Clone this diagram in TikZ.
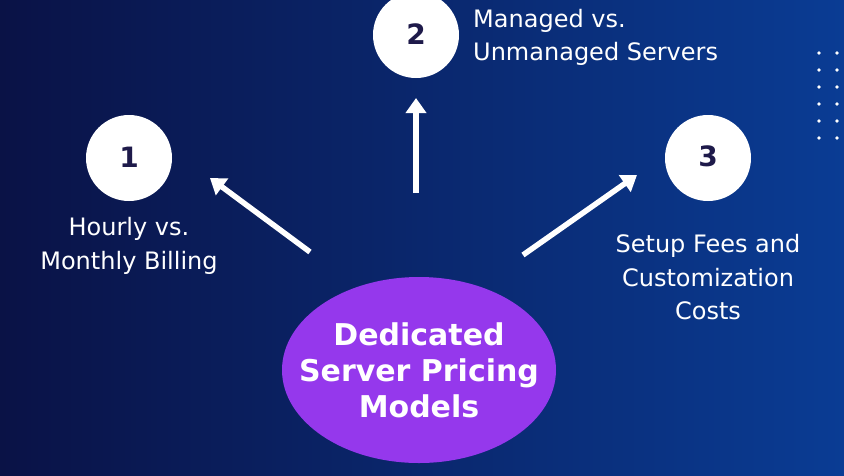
\documentclass[tikz,border=0pt]{standalone}
\usepackage{fontspec}
\setmainfont{DejaVu Sans}
\usetikzlibrary{arrows.meta,shapes.geometric}
\definecolor{bgleft}{HTML}{0A1246}
\definecolor{bgright}{HTML}{0A3C94}
\definecolor{violet}{HTML}{9538EC}
\definecolor{digit}{HTML}{1E1A4A}
\tikzset{
  numcircle/.style={circle,fill=white,minimum size=86pt,inner sep=0pt},
  digitlbl/.style={text=digit,font=\bfseries\fontsize{28}{28}\selectfont,inner sep=0pt,anchor=base},
  lbl/.style={text=white,font=\fontsize{24}{24}\selectfont,inner sep=0pt,anchor=base},
  mainlbl/.style={text=white,font=\bfseries\fontsize{30}{30}\selectfont,inner sep=0pt,anchor=base},
  bigarrow/.style={white,line width=5.5pt,-{Triangle[width=20pt,length=15pt]}},
  dot/.style={circle,fill=white,minimum size=3.8pt,inner sep=0pt}
}
\begin{document}
\begin{tikzpicture}[x=1pt,y=-1pt]
\useasboundingbox (0,0) rectangle (844,475);
\shade[left color=bgleft,right color=bgright] (0,0) rectangle (844,475);
% dots
\foreach \yy [count=\i] in {53,70,87,104,121,138}{
  \node[dot] (dl\i) at (819,\yy) {};
  \node[dot] (dr\i) at (837,\yy) {};
}
% central ellipse
\node[ellipse,fill=violet,minimum width=274pt,minimum height=186pt,inner sep=0pt] (main) at (419,370) {};
\node[mainlbl] (m1) at (419,345) {Dedicated};
\node[mainlbl] (m2) at (419,381) {Server Pricing};
\node[mainlbl] (m3) at (419,417) {Models};
% circles
\node[numcircle] (c1) at (129,158) {};
\node[numcircle] (c2) at (416,35) {};
\node[numcircle] (c3) at (708,158) {};
\node[digitlbl] (n1) at (129,167) {1};
\node[digitlbl] (n2) at (416,44) {2};
\node[digitlbl] (n3) at (708,166) {3};
% labels
\node[lbl] (l1a) at (129,235) {Hourly vs.};
\node[lbl] (l1b) at (129,269) {Monthly Billing};
\node[lbl,anchor=base west] (l2a) at (473,27) {Managed vs.};
\node[lbl,anchor=base west] (l2b) at (473,60) {Unmanaged Servers};
\node[lbl] (l3a) at (708,252) {Setup Fees and};
\node[lbl] (l3b) at (708,286) {Customization};
\node[lbl] (l3c) at (708,319) {Costs};
% arrows
\coordinate (a1s) at (310,252);
\coordinate (a1e) at (210,178);
\coordinate (a2s) at (416,193);
\coordinate (a2e) at (416,98);
\coordinate (a3s) at (523,255);
\coordinate (a3e) at (637,175);
\draw[bigarrow] (a1s) -- (a1e);
\draw[bigarrow] (a2s) -- (a2e);
\draw[bigarrow] (a3s) -- (a3e);
\end{tikzpicture}
\end{document}
